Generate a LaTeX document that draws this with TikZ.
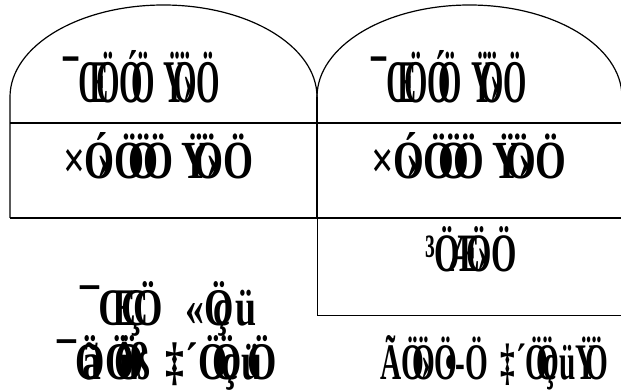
\documentclass[tikz,border=0pt]{standalone}
\usepackage{fontspec}
\usepackage{graphicx}
\newfontfamily\legfont{Liberation Serif Bold}
\newcommand\nk{\kern-.4em}
\newcommand\gt{\kern-.45em}
\begin{document}
\begin{tikzpicture}[x=1pt,y=-1pt,
  frame/.style={line width=1.2pt,black},
  thin frame/.style={line width=0.9pt,black},
  lbl/.style={anchor=base west,inner sep=0pt,outer sep=0pt,font=\legfont\fontsize{40}{40}\selectfont}]
\useasboundingbox (0,0) rectangle (621,390);
% arches
\draw[frame] (10,218) -- (10,97) arc[start angle=180,end angle=360,x radius=153.5,y radius=92] coordinate (cusp);
\draw[frame] (cusp) arc[start angle=180,end angle=360,x radius=152.5,y radius=92];
% rows
\draw[frame] (10,123) -- (621,123);
\draw[frame] (10,218) -- (621,218);
\draw[frame] (cusp) -- (317,218);
\draw[thin frame] (317,218) -- (317,315) -- (621,315);
% labels
\node[lbl] (t1l) at (63,103) {\resizebox{157pt}{52pt}{¯Œ\nk ÖÓ\nk Ö\hspace{.3em}Ÿ\nk Ö\gt›\kern.1em Ö}};
\node[lbl] (t1r) at (371,103) {\resizebox{156pt}{52pt}{¯Œ\nk ÖÓ\nk Ö\hspace{.3em}Ÿ\nk Ö\gt›\kern.1em Ö}};
\node[lbl] (t2l) at (63,179) {\resizebox{190pt}{46pt}{×Ó\gt›\kern.1em Ö\nk Ö\nk Ö\hspace{.2em}Ÿ\nk Ö\gt›\kern.1em Ö}};
\node[lbl] (t2r) at (371,179) {\resizebox{195pt}{46pt}{×Ó\gt›\kern.1em Ö\nk Ö\nk Ö\hspace{.2em}Ÿ\nk Ö\gt›\kern.1em Ö}};
\node[lbl] (t3) at (425,271) {\resizebox{92pt}{45pt}{³Ö\nk Æ\nk Ö\gt›\kern.1em Ö}};
\node[lbl] (t4) at (80,325) {\resizebox{177pt}{44pt}{¯Œ\nk Ç\nk Ö\hspace{.6em}«Ö\kern-.55em ç\kern.15em ü}};
\node[lbl] (t5) at (57,379) {\resizebox{220pt}{44pt}{¯Ö\kern-.6em ã\kern.1em Ö\nk î\nk Ö\nk ß\hspace{.4em}‡\kern.05em ´Ö\nk Ö\kern-.55em ç\kern.1em ü\nk Ö}};
\node[lbl] (t6) at (380,379) {\resizebox{228pt}{44pt}{ÃÖ\nk Ö\gt›\kern.1em Ö\nk •-Ö\hspace{.4em}‡\kern.05em ´Ö\nk Ö\kern-.55em ç\kern.1em üŸ\nk Ö}};
\end{tikzpicture}
\end{document}
